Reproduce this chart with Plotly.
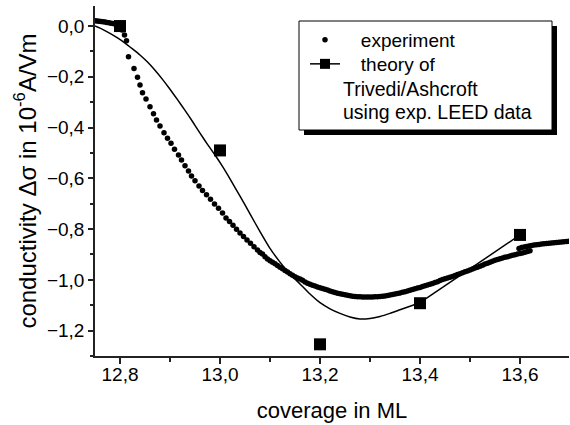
import plotly.graph_objects as go

# ---------------- data ----------------
exp_x = [12.750, 12.754, 12.758, 12.762, 12.766, 12.770, 12.774, 12.778, 12.782, 12.786, 12.790, 12.794, 12.798,
         12.804, 12.809, 12.813, 12.817, 12.828, 12.835, 12.840, 12.845, 12.852, 12.860, 12.867, 12.873,
         12.880, 12.888, 12.895, 12.902, 12.909, 12.917, 12.923, 12.930, 12.937, 12.943, 12.950, 12.958,
         12.965, 12.973, 12.981, 12.989, 12.997, 13.005, 13.012, 13.019, 13.026, 13.033, 13.040, 13.047,
         13.054, 13.061, 13.068, 13.075, 13.080,
         13.085, 13.090, 13.095, 13.100, 13.105, 13.110, 13.115, 13.120, 13.125, 13.130, 13.135, 13.140,
         13.145, 13.150, 13.155, 13.160, 13.165, 13.170, 13.175, 13.180, 13.185, 13.190, 13.195, 13.200,
         13.205, 13.210, 13.215, 13.220, 13.225, 13.230, 13.235, 13.240, 13.245, 13.250, 13.255, 13.260,
         13.265, 13.270, 13.275, 13.280, 13.285, 13.290, 13.295, 13.300, 13.305, 13.310, 13.315, 13.320,
         13.325, 13.330, 13.335, 13.340, 13.345, 13.350, 13.355, 13.360, 13.365, 13.370, 13.375, 13.380,
         13.385, 13.390, 13.395, 13.400, 13.405, 13.410, 13.415, 13.420, 13.425, 13.430, 13.435, 13.440,
         13.445, 13.450, 13.455, 13.460, 13.465, 13.470, 13.475, 13.480, 13.485, 13.490, 13.495, 13.500,
         13.505, 13.510, 13.515, 13.520, 13.525, 13.530, 13.535, 13.540, 13.545, 13.550, 13.555, 13.560,
         13.565, 13.570, 13.575, 13.580, 13.585, 13.590, 13.595, 13.600, 13.605, 13.610, 13.615, 13.620,
         13.598, 13.603, 13.608, 13.613, 13.618, 13.623, 13.628, 13.633, 13.638, 13.643, 13.648, 13.653,
         13.658, 13.663, 13.668, 13.673, 13.678, 13.683, 13.688, 13.693, 13.698]
exp_y = [0.021, 0.020, 0.019, 0.018, 0.017, 0.016, 0.014, 0.013, 0.011, 0.010, 0.008, 0.006, 0.004,
         -0.016, -0.035, -0.058, -0.121, -0.167, -0.202, -0.232, -0.263, -0.287, -0.318, -0.346, -0.370,
         -0.394, -0.420, -0.442, -0.462, -0.485, -0.508, -0.528, -0.550, -0.571, -0.591, -0.610, -0.630,
         -0.648, -0.665, -0.682, -0.701, -0.718, -0.737, -0.756, -0.770, -0.785, -0.801, -0.815, -0.829,
         -0.843, -0.856, -0.870, -0.882, -0.892,
         -0.898, -0.909, -0.918, -0.925, -0.931, -0.937, -0.943, -0.950, -0.956, -0.963, -0.969, -0.976,
         -0.982, -0.988, -0.993, -0.997, -1.002, -1.008, -1.013, -1.017, -1.021, -1.024, -1.028, -1.031,
         -1.034, -1.037, -1.040, -1.044, -1.047, -1.050, -1.053, -1.055, -1.057, -1.059, -1.061, -1.063,
         -1.065, -1.066, -1.067, -1.067, -1.068, -1.068, -1.068, -1.068, -1.068, -1.067, -1.067, -1.066,
         -1.065, -1.064, -1.062, -1.060, -1.058, -1.056, -1.054, -1.052, -1.049, -1.047, -1.044, -1.041,
         -1.038, -1.035, -1.032, -1.030, -1.026, -1.023, -1.020, -1.017, -1.014, -1.010, -1.007, -1.003,
         -0.999, -0.996, -0.993, -0.990, -0.987, -0.983, -0.979, -0.976, -0.972, -0.968, -0.965, -0.961,
         -0.957, -0.953, -0.950, -0.946, -0.942, -0.938, -0.935, -0.931, -0.927, -0.923, -0.920, -0.917,
         -0.914, -0.911, -0.909, -0.906, -0.903, -0.901, -0.898, -0.896, -0.894, -0.891, -0.888, -0.885,
         -0.876, -0.873, -0.871, -0.869, -0.867, -0.865, -0.863, -0.862, -0.861, -0.859, -0.858, -0.857,
         -0.856, -0.855, -0.854, -0.853, -0.852, -0.851, -0.850, -0.849, -0.848]

# smooth theory curve (up to 13.4) and the straight continuation to 13.6
theory_curve_x = [12.750, 12.765, 12.780, 12.795, 12.810, 12.825, 12.840, 12.855, 12.870, 12.885,
                  12.900, 12.915, 12.930, 12.945, 12.960, 12.975, 12.990, 13.005, 13.020, 13.040,
                  13.060, 13.080, 13.100, 13.120, 13.140, 13.160, 13.180, 13.200, 13.220, 13.240,
                  13.260, 13.280, 13.300, 13.320, 13.340, 13.360, 13.380, 13.400]
theory_curve_y = [0.000, -0.013, -0.029, -0.047, -0.067, -0.090, -0.114, -0.142, -0.174, -0.210,
                  -0.249, -0.290, -0.332, -0.376, -0.422, -0.466, -0.508, -0.553, -0.602, -0.670,
                  -0.740, -0.810, -0.876, -0.930, -0.977, -1.016, -1.056, -1.090, -1.114, -1.132,
                  -1.146, -1.154, -1.152, -1.144, -1.132, -1.118, -1.104, -1.090]
theory_seg_x = [13.4, 13.6]
theory_seg_y = [-1.090, -0.823]

theory_pts_x = [12.8, 13.0, 13.2, 13.4, 13.6]
theory_pts_y = [0.000, -0.490, -1.254, -1.092, -0.823]

x_ticks = [12.8, 13.0, 13.2, 13.4, 13.6]
y_ticks = [0.0, -0.2, -0.4, -0.6, -0.8, -1.0, -1.2]

# ---------------- styling ----------------
W, H = 570, 425
ML, MR, MT, MB = 95, 1, 6, 69
PW, PH = W - ML - MR, H - MT - MB
FONT = "Liberation Sans, Arial, sans-serif"
AX = "#222222"
NB = "\u00a0"


def px2paper(px, py):
    return (px - ML) / PW, (H - MB - py) / PH


fig = go.Figure()

fig.add_trace(go.Scatter(
    x=exp_x, y=exp_y, mode="markers", name=NB * 3 + "experiment",
    marker=dict(color="black", size=5.5, symbol="circle", line=dict(width=0)),
    legend="legend"))

fig.add_trace(go.Scatter(
    x=theory_curve_x, y=theory_curve_y, mode="lines", showlegend=False,
    line=dict(color="black", width=1.5, shape="spline", smoothing=0.5)))

fig.add_trace(go.Scatter(
    x=theory_seg_x, y=theory_seg_y, mode="lines", showlegend=False,
    line=dict(color="black", width=1.5)))

fig.add_trace(go.Scatter(
    x=theory_pts_x, y=theory_pts_y, mode="markers", showlegend=False,
    marker=dict(color="black", size=12, symbol="square", line=dict(width=0)), cliponaxis=False))

# legend entry for theory (line + square)
fig.add_trace(go.Scatter(
    x=[None], y=[None], mode="lines+markers", name=NB * 3 + "theory of",
    line=dict(color="black", width=1.5),
    marker=dict(color="black", size=10, symbol="square"), legend="legend2"))

# legend box with shadow
x0, y0 = px2paper(299, 21)
x1, y1 = px2paper(552, 130)
sx0, sy0 = px2paper(304, 26)
sx1, sy1 = px2paper(557, 135)
fig.add_shape(type="rect", xref="paper", yref="paper", x0=sx0, y0=sy1, x1=sx1, y1=sy0,
              fillcolor="black", line=dict(width=0), layer="above")
fig.add_shape(type="rect", xref="paper", yref="paper", x0=x0, y0=y1, x1=x1, y1=y0,
              fillcolor="white", line=dict(color="black", width=1), layer="above")

lx, ly = px2paper(305, 21)
l2x, l2y = px2paper(305, 45)
leg_common = dict(bgcolor="rgba(0,0,0,0)", borderwidth=0, xanchor="left", yanchor="top",
                  font=dict(family=FONT, size=19, color="black"), itemwidth=30)
for txt, pyc in [("Trivedi/Ashcroft", 89), ("using exp. LEED data", 112)]:
    ax_, ay_ = px2paper(341, pyc)
    fig.add_annotation(text=txt, xref="paper", yref="paper", x=ax_, y=ay_, xanchor="left",
                       yanchor="middle", showarrow=False,
                       font=dict(family=FONT, size=19.5, color="black"))

fig.update_layout(
    width=W, height=H, margin=dict(l=ML, r=MR, t=MT, b=MB, autoexpand=False),
    paper_bgcolor="white", plot_bgcolor="white",
    separators=", ",
    showlegend=True,
    legend=dict(x=lx, y=ly, **leg_common),
    legend2=dict(x=l2x, y=l2y, **leg_common),
    xaxis=dict(range=[12.75, 13.698], tickvals=x_ticks, tickformat=".1f", automargin=False,
               ticks="outside", ticklen=6, tickwidth=1.5, tickcolor=AX, ticklabelstandoff=-6,
               minor=dict(ticks="outside", ticklen=4, tickwidth=1.5, tickcolor=AX, dtick=0.1, tick0=12.8),
               showline=True, linecolor=AX, linewidth=1.5, showgrid=False, zeroline=False,
               tickfont=dict(family=FONT, size=19, color="black"),
               title=dict(text="coverage in ML", font=dict(family=FONT, size=22, color="black"), standoff=19)),
    yaxis=dict(range=[-1.3, 0.079], tickvals=y_ticks, tickformat=".1f", automargin=False,
               ticks="outside", ticklen=5, tickwidth=1.5, tickcolor=AX,
               minor=dict(ticks="outside", ticklen=3.5, tickwidth=1.5, tickcolor=AX, dtick=0.1, tick0=0),
               showline=True, linecolor=AX, linewidth=1.5, showgrid=False, zeroline=False,
               tickfont=dict(family=FONT, size=19, color="black"),
               title=dict(text="conductivity \u0394\u03c3 in 10<sup>-6</sup>A/Vm",
                          font=dict(family=FONT, size=24, color="black"), standoff=4)),
    xaxis2=dict(overlaying="x", side="top", anchor="y", range=[12.75, 13.698], automargin=False,
                tick0=12.8, dtick=0.1, ticks="inside", ticklen=5, tickwidth=1.5, tickcolor=AX,
                showticklabels=False, showline=True, linecolor=AX, linewidth=1.5,
                showgrid=False, zeroline=False),
    yaxis2=dict(overlaying="y", side="right", anchor="x", range=[-1.3, 0.079], automargin=False,
                tick0=0, dtick=0.1, ticks="inside", ticklen=5, tickwidth=1.5, tickcolor=AX,
                showticklabels=False, showline=True, linecolor=AX, linewidth=1.5,
                showgrid=False, zeroline=False),
)

fig.write_html("out.html", config={"displayModeBar": False},
               post_script="document.body.style.margin='0px';")
